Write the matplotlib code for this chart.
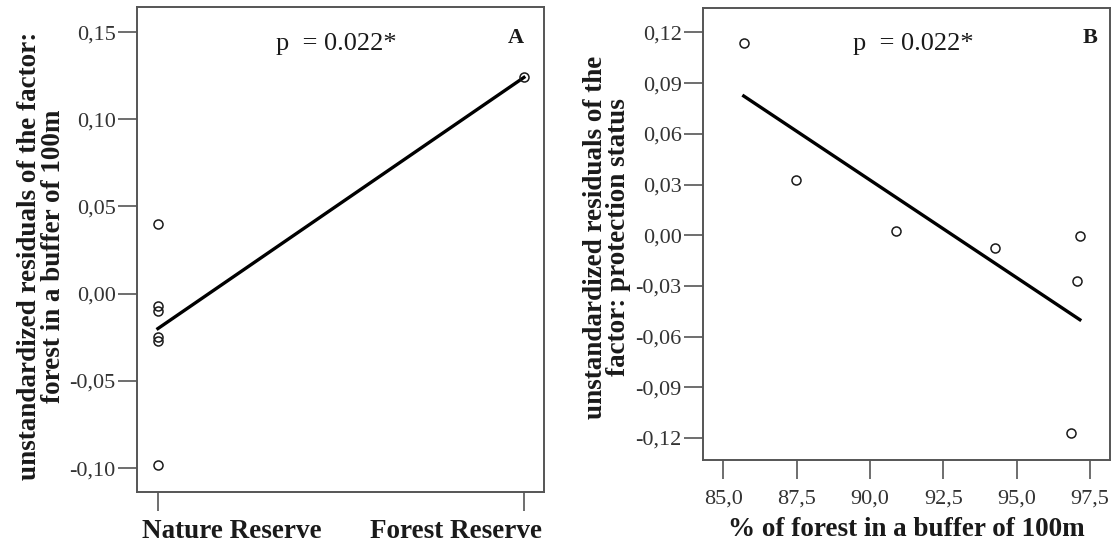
import numpy as np
import matplotlib
matplotlib.use("Agg")
import matplotlib.pyplot as plt
from matplotlib.ticker import FuncFormatter
from matplotlib.transforms import ScaledTranslation

plt.rcParams['font.family'] = ['Liberation Serif', 'DejaVu Serif']

# panel A: residuals vs protection status
a_cats = ["Nature Reserve", "Forest Reserve"]
a_x = [0, 0, 0, 0, 0, 0, 1]
a_y = [0.040, -0.007, -0.010, -0.025, -0.027, -0.098, 0.124]
a_fit_x = [0, 1]
a_fit_y = [-0.020, 0.124]
a_yticks = [-0.10, -0.05, 0.00, 0.05, 0.10, 0.15]

# panel B: residuals vs % forest
b_x = [85.70, 87.49, 90.88, 94.27, 97.15, 97.05, 96.86]
b_y = [0.1135, 0.0327, 0.0027, -0.0076, -0.0006, -0.027, -0.117]
b_fit_x = [85.70, 97.15]
b_fit_y = [0.0824, -0.050]
b_xticks = [85.0, 87.5, 90.0, 92.5, 95.0, 97.5]
b_yticks = [-0.12, -0.09, -0.06, -0.03, 0.00, 0.03, 0.06, 0.09, 0.12]

ink = '#1a1a1a'
edge = '#555555'


def comma(fmt):
    return FuncFormatter(lambda v, p: (fmt % v).replace('.', ','))


def style(ax):
    for s in ax.spines.values():
        s.set_color(edge)
        s.set_linewidth(1.4)
    ax.tick_params(direction='out', length=13.5, width=1.2, color=edge,
                   labelsize=16, labelcolor='#333333', pad=2)


fig = plt.figure(figsize=(11.16, 5.43), dpi=100)

# ---- A ----
axA = fig.add_axes([0.1228, 0.0939, 0.3647, 0.893])
style(axA)
axA.plot(a_fit_x, a_fit_y, color='black', lw=2.4, zorder=2)
axA.plot(a_x, a_y, 'o', mfc='none', mec=ink, mew=1.1, ms=6.5, zorder=3)
axA.set_xlim(-0.057, 1.055)
axA.set_ylim(-0.1137, 0.1643)
axA.set_xticks([0, 1])
axA.set_xticklabels(a_cats, fontsize=19.5, fontweight='bold', color=ink)
axA.tick_params(axis='x', pad=6)
# category labels sit off-centre in the original: first starts near its tick, last ends near it
labs = axA.get_xticklabels()
labs[0].set_ha('left')
labs[0].set_transform(labs[0].get_transform() + ScaledTranslation(-0.16, 0, fig.dpi_scale_trans))
labs[1].set_ha('right')
labs[1].set_transform(labs[1].get_transform() + ScaledTranslation(0.18, 0, fig.dpi_scale_trans))
axA.set_yticks(a_yticks)
axA.yaxis.set_major_formatter(comma('%.2f'))
axA.set_ylabel("unstandardized residuals of the factor:\nforest in a buffer of 100m",
               fontsize=19.5, fontweight='bold', color=ink, linespacing=0.92)
axA.yaxis.set_label_coords(-0.175, 0.487)
axA.text(0.3415, 0.911, "p  = 0.022*", transform=axA.transAxes, fontsize=19,
         color=ink, va='baseline', ha='left')
axA.text(0.931, 0.926, "A", transform=axA.transAxes, fontsize=16,
         fontweight='bold', color=ink, va='baseline', ha='center')

# ---- B ----
axB = fig.add_axes([0.630, 0.1529, 0.3647, 0.8324])
style(axB)
axB.plot(b_fit_x, b_fit_y, color='black', lw=2.4, zorder=2)
axB.plot(b_x, b_y, 'o', mfc='none', mec=ink, mew=1.1, ms=6.5, zorder=3)
axB.set_xlim(84.315, 98.18)
axB.set_ylim(-0.133, 0.1345)
axB.set_xticks(b_xticks)
axB.xaxis.set_major_formatter(comma('%.1f'))
axB.tick_params(axis='x', pad=8)
axB.set_yticks(b_yticks)
axB.yaxis.set_major_formatter(comma('%.2f'))
axB.set_xlabel("% of forest in a buffer of 100m", fontsize=19.5,
               fontweight='bold', color=ink, labelpad=6)
axB.set_ylabel("unstandardized residuals of the\nfactor: protection status",
               fontsize=19.5, fontweight='bold', color=ink, linespacing=0.92)
axB.yaxis.set_label_coords(-0.177, 0.493)
axB.text(0.3686, 0.906, "p  = 0.022*", transform=axB.transAxes, fontsize=19,
         color=ink, va='baseline', ha='left')
axB.text(0.951, 0.9226, "B", transform=axB.transAxes, fontsize=16,
         fontweight='bold', color=ink, va='baseline', ha='center')

fig.savefig("out.png", dpi=100)
